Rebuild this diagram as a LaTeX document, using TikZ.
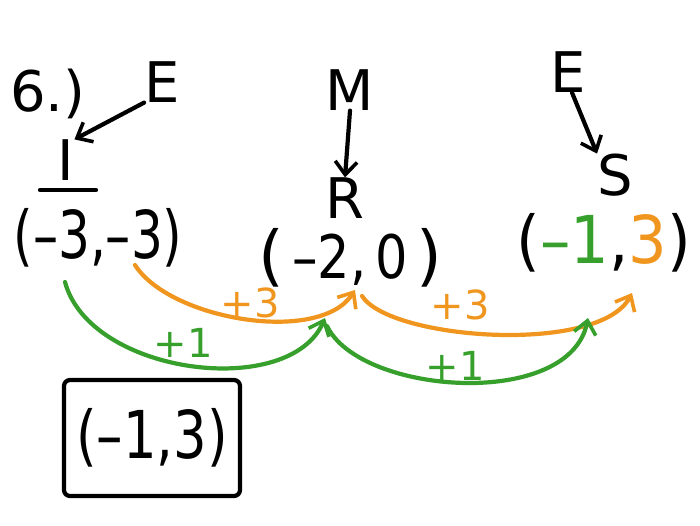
\documentclass[tikz,border=0pt]{standalone}
\usepackage{fontspec}
\usepackage{graphicx}
\setmainfont{DejaVu Sans}
\setsansfont{DejaVu Sans}
\usetikzlibrary{arrows.meta}
\definecolor{hor}{RGB}{240,150,30}
\definecolor{hgr}{RGB}{55,160,45}
\newcommand{\narrow}[2]{\scalebox{#1}[1]{#2}}
\tikzset{
  big/.style={font=\fontsize{66}{70}\selectfont, inner sep=0pt},
  mid/.style={font=\fontsize{56}{60}\selectfont, inner sep=0pt},
  lab/.style={font=\fontsize{40}{44}\selectfont, inner sep=0pt},
  ink/.style={line width=4.2pt, line cap=round, line join=round},
  pen/.style={ink, -{Straight Barb[length=13pt,width=22pt,line width=3.6pt]}},
}
\begin{document}
\begin{tikzpicture}[x=1pt,y=-1pt]
\useasboundingbox[fill=white] (0,0) rectangle (700,525);
% labels
\node[mid] (six) at (48,94) {6.)};
\node[mid] (E1) at (162,82) {E};
\node[mid] (I) at (66,160) {I};
\draw[ink] (40,190) -- (96,190);
\node[big] (P2) at (350,258) {(\narrow{0.85}{\fontsize{60}{64}\selectfont\,–2,\,0\,})};
\node[big] (P1) at (98,238) {\narrow{0.76}{(–3,–3)}};
\node[mid] (M) at (350,90) {M};
\node[mid] (R) at (345,198) {R};
\node[mid] (E2) at (568,72) {E};
\node[mid] (S) at (615,175) {S};
\node[big] (P3) at (604,243) {\narrow{0.92}{(\textcolor{hgr}{–1}\textcolor{black}{,}\textcolor{hor}{3})}};
% arrows into letters
\draw[pen] (E1.south west) -- (I.north east);
\draw[pen] (M.south) -- (R.north);
\draw[pen] (E2.south) ++(4,0) -- (S.north west);
% arc endpoints
\coordinate (oa1) at (135,265);
\coordinate (ob1) at (355,290);
\coordinate (oa2) at (362,296);
\coordinate (ob2) at (632,293);
\coordinate (ga1) at (65,282);
\coordinate (gb1) at (325,318);
\coordinate (ga2) at (327,326);
\coordinate (gb2) at (588,318);
% orange arcs
\draw[pen,hor] (oa1) .. controls (170,320) and (320,345) .. (ob1);
\draw[pen,hor] (oa2) .. controls (390,340) and (600,355) .. (ob2);
% green arcs
\draw[pen,hgr] (ga1) .. controls (90,375) and (290,400) .. (gb1);
\draw[pen,hgr] (ga2) .. controls (360,395) and (570,410) .. (gb2);
% step labels
\node[lab,hor] (t1) at (250,303) {+3};
\node[lab,hor] (t2) at (460,305) {+3};
\node[lab,hgr] (g1) at (183,343) {+1};
\node[lab,hgr] (g2) at (455,366) {+1};
% answer box
\node[big, draw, ink, rounded corners=6pt, minimum width=176pt, minimum height=116pt] (ans) at (152,438) {\narrow{0.8}{(–1,3)}};
\end{tikzpicture}
\end{document}
